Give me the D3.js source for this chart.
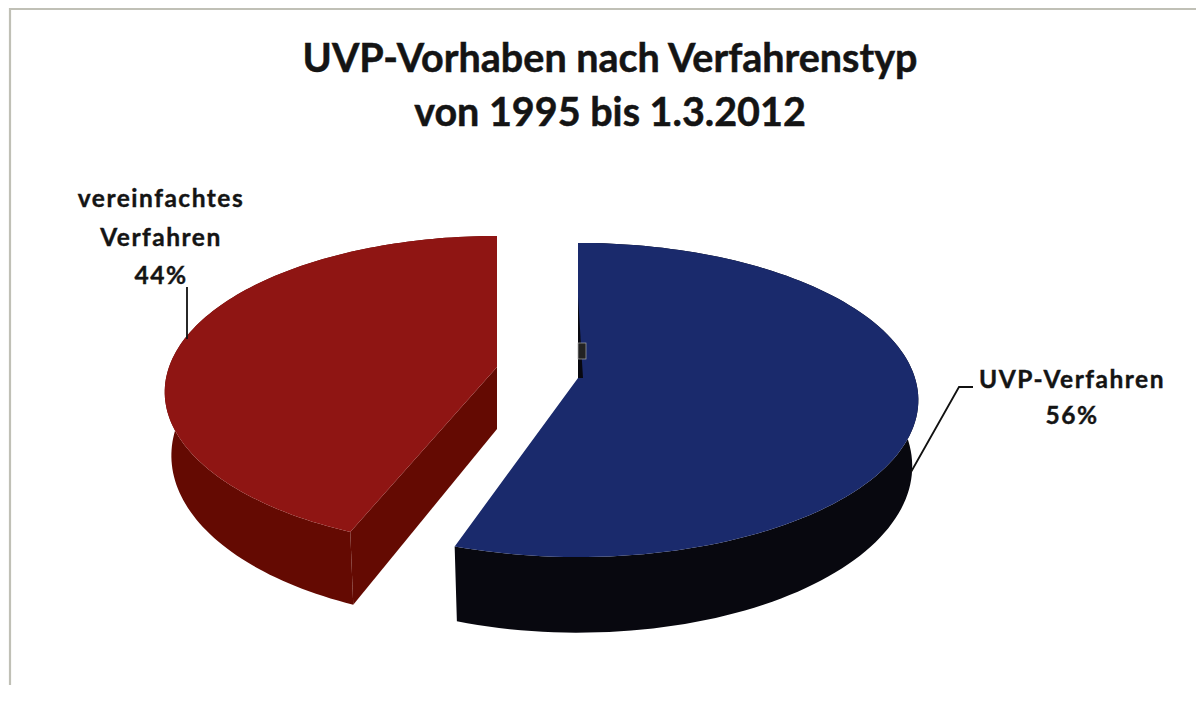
<!DOCTYPE html>
<html>
<head>
<meta charset="utf-8">
<script src="https://cdn.jsdelivr.net/npm/d3@7"></script>
<style>
    html, body { margin: 0; padding: 0; background: #fff; }
    text { font-family: Lato, "Open Sans", sans-serif; font-weight: 700; fill: #141414; }
</style>
</head>
<body>
<div id="chart"></div>
<script>
const titleLines = ['UVP-Vorhaben nach Verfahrenstyp', 'von 1995 bis 1.3.2012']
const categories = ['UVP-Verfahren', 'vereinfachtes Verfahren']
const values = [56, 44]
const topColors = ['#1a2a6c', '#8f1513']
const sideColors = ['#08080f', '#640a02']

const width = 1196
const height = 702

const svg = d3.select('#chart').append('svg')
    .attr('width', width)
    .attr('height', height)

// scanned frame
svg.append('path')
    .attr('d', `M10,685V9H${width}`)
    .attr('fill', 'none')
    .attr('stroke', '#c0c0b6')
    .attr('stroke-width', 2.2)

svg.append('g').selectAll('text')
    .data(titleLines)
    .enter().append('text')
    .attr('x', 610)
    .attr('y', (d, i) => 72 + i * 54)
    .attr('text-anchor', 'middle')
    .style('font-size', '39.5px')
    .style('stroke', '#141414')
    .style('stroke-width', 0.5)
    .text(d => d)

// the pie lies on a tilted plane, so the front looks bigger than the back.
// each slice got its own small correction, the original is not a true projection
const planes = [
    { cx: 578, cy: 378, a: 337, b: 154, k: 0.14, depth: 65, inset: 0.982, trimStart: 0, trimEnd: 0.054 },
    { cx: 497, cy: 367, a: 328, b: 152, k: 0.16, depth: 62, inset: 0.98, trimStart: 0.014, trimEnd: 0 }
]

const pie = d3.pie().sort(null).value(d => d.value)
const slices = pie(categories.map((name, i) => ({ name, value: values[i], i })))

// lower = true gives the point on the underside of the slice
function project(slice, angle, radius, lower) {
    const p = planes[slice.data.i]
    const u = Math.sin(angle) * radius
    const v = -Math.cos(angle) * radius
    const s = 1 / (1 - p.k * v)
    const shrink = lower ? p.inset : 1
    return [p.cx + p.a * u * s * shrink, p.cy + p.b * v * s + (lower ? p.depth * s : 0)]
}

function from(slice) { return slice.startAngle + planes[slice.data.i].trimStart }
function to(slice) { return slice.endAngle - planes[slice.data.i].trimEnd }

function rim(slice, lower) {
    const steps = d3.range(0, 121).map(n => from(slice) + (to(slice) - from(slice)) * n / 120)
    return steps.map(t => project(slice, t, 1, lower))
}

const line = d3.line()

const sliceGroups = svg.append('g').selectAll('g')
    .data(slices.slice().reverse())
    .enter().append('g')

// outer wall
sliceGroups.append('path')
    .attr('d', d => line(rim(d, false).concat(rim(d, true).reverse())) + 'Z')
    .attr('fill', d => sideColors[d.data.i])

// cut wall, only the red slice shows it
sliceGroups.filter(d => d.data.i === 1).append('path')
    .attr('d', d => line([
        project(d, 0, 0, false),
        project(d, from(d), 1, false),
        project(d, from(d), 1, true),
        project(d, 0, 0, true)
    ]) + 'Z')
    .attr('fill', d => sideColors[d.data.i])

// top face
sliceGroups.append('path')
    .attr('d', d => line([project(d, 0, 0, false)].concat(rim(d, false))) + 'Z')
    .attr('fill', d => topColors[d.data.i])

// dark sliver and scan speck at the blue cut
svg.append('path')
    .attr('d', 'M578,297L578,378L583,378Z')
    .attr('fill', sideColors[0])
svg.append('rect')
    .attr('x', 578).attr('y', 343)
    .attr('width', 8).attr('height', 16)
    .attr('fill', '#222')
    .attr('stroke', '#aaa')
    .attr('stroke-width', 0.7)

// leader lines
svg.append('path')
    .attr('d', 'M911,472L959,387H973')
    .attr('fill', 'none')
    .attr('stroke', '#111')
    .attr('stroke-width', 1.8)
svg.append('path')
    .attr('d', 'M187,287V339')
    .attr('fill', 'none')
    .attr('stroke', '#111')
    .attr('stroke-width', 1.8)

const fmt = d3.format('d')

const labelData = [
    { lines: [categories[0], fmt(values[0]) + '%'], x: 1072, y: 388, step: 36 },
    { lines: categories[1].split(' ').concat(fmt(values[1]) + '%'), x: 161, y: 207, step: 38.5 }
]

labelData.forEach(l => {
    svg.append('g').selectAll('text')
        .data(l.lines)
        .enter().append('text')
        .attr('x', l.x)
        .attr('y', (d, i) => l.y + i * l.step)
        .attr('text-anchor', 'middle')
        .style('font-size', '24.5px')
        .style('letter-spacing', '1.5px')
        .style('stroke', '#141414')
        .style('stroke-width', 0.4)
        .text(d => d)
})
</script>
</body>
</html>
